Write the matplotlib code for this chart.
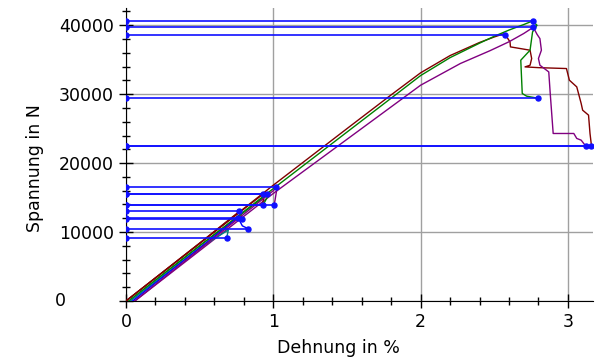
import numpy as np
import matplotlib
matplotlib.use("Agg")
import matplotlib.pyplot as plt
from matplotlib.ticker import MultipleLocator, FuncFormatter

# -----------------------------
# DATA
# -----------------------------
# long specimens
red_x = [0, 0.5, 1.0, 1.5, 1.8, 2.0, 2.2, 2.4, 2.5, 2.57, 2.607, 2.61, 2.743, 2.754,
         2.743, 2.709, 2.80, 2.99, 3.01, 3.06, 3.09, 3.10, 3.14, 3.15, 3.16]
red_y = [0, 8350, 16800, 25000, 29900, 33100, 35600, 37500, 38300, 38800, 37580, 36860,
         36380, 35170, 34200, 33960, 33850, 33720, 32030, 31060, 28650, 27680, 26960,
         24300, 22500]

green_x = [0.02, 0.5, 1.0, 1.5, 2.0, 2.2, 2.4, 2.5, 2.6, 2.7, 2.76, 2.79, 2.76, 2.743,
           2.68, 2.69, 2.72, 2.795]
green_y = [0, 8000, 16300, 24500, 32700, 35300, 37400, 38400, 39300, 40100, 40620, 40000,
           39030, 36380, 34930, 30100, 29710, 29420]

purple_x = [0.06, 0.5, 1.0, 1.5, 2.0, 2.27, 2.47, 2.6, 2.7, 2.765, 2.79, 2.81, 2.82,
            2.80, 2.81, 2.87, 2.88, 2.89, 2.90, 3.04, 3.06, 3.09, 3.12]
purple_y = [0, 7300, 15600, 23450, 31300, 34450, 36300, 37600, 38800, 39700, 38700, 38060,
            36380, 35170, 34200, 33230, 30100, 27200, 24300, 24300, 23580, 23330, 22500]

# short specimens (early failure)
red2_x = [0, 0.5, 0.928, 0.934, 0.93]
red2_y = [0, 8350, 15460, 15000, 14300]
red3_x = [0, 0.5, 0.77, 0.78, 0.787]
red3_y = [0, 8400, 13000, 12500, 11840]
green2_x = [0.02, 0.5, 0.96, 0.958, 0.94, 0.928]
green2_y = [0, 8000, 15460, 15000, 14300, 13870]
teal_x = [0.03, 0.5, 0.695, 0.69, 0.683]
teal_y = [0, 7700, 10300, 9800, 9130]
blue_x = [0.045, 0.5, 0.758, 0.77, 0.79, 0.83]
blue_y = [0, 7700, 12070, 11700, 10900, 10480]
purple2_x = [0.06, 0.5, 1.0, 1.02, 1.023, 1.012, 1.005]
purple2_y = [0, 7500, 16000, 16480, 16090, 14640, 13870]

# blue marker lines: force level and strain where the line ends
mark_force = [40620, 39710, 38600, 29420, 22500, 22500, 16480, 15460, 15460, 13870,
              13870, 13000, 12070, 11840, 10480, 9130]
mark_strain = [2.76, 2.765, 2.57, 2.795, 3.12, 3.16, 1.02, 0.96, 0.928, 1.005,
               0.928, 0.77, 0.758, 0.787, 0.83, 0.683]

curves = [
    (red_x, red_y, "#800000"),
    (green_x, green_y, "#008000"),
    (purple_x, purple_y, "#800080"),
    (red2_x, red2_y, "#800000"),
    (red3_x, red3_y, "#800000"),
    (green2_x, green2_y, "#008000"),
    (teal_x, teal_y, "#008080"),
    (blue_x, blue_y, "#0000FF"),
    (purple2_x, purple2_y, "#800080"),
]

plt.rcParams["font.family"] = ["DejaVu Sans"]
plt.rcParams["font.size"] = 12.5

fig = plt.figure(figsize=(6.13, 3.61), dpi=100)
ax = fig.add_axes([0.2055, 0.1662, 0.7618, 0.8116])

for cx, cy, col in curves:
    ax.plot(cx, cy, color=col, linewidth=1.0, zorder=3)

for f, s in zip(mark_force, mark_strain):
    ax.plot([0, s], [f, f], color="#1010FF", linewidth=1.2, marker="o",
            markersize=3.6, zorder=4)

ax.set_xlim(0, 3.17)
ax.set_ylim(0, 42500)

ax.spines["top"].set_visible(False)
ax.spines["right"].set_visible(False)

ax.xaxis.set_major_locator(MultipleLocator(1))
ax.xaxis.set_minor_locator(MultipleLocator(0.2))
ax.yaxis.set_major_locator(MultipleLocator(10000))
ax.yaxis.set_minor_locator(MultipleLocator(2000))
ax.tick_params(which="major", direction="inout", length=10, width=1)
ax.tick_params(which="minor", direction="inout", length=6, width=1)
ax.yaxis.set_major_formatter(FuncFormatter(lambda v, p: "" if v == 0 else f"{v:.0f}"))
ax.text(-0.14, 0, "0", transform=ax.get_yaxis_transform(), ha="center", va="center")

ax.grid(True, which="major", color="#a0a0a0", linewidth=1.0, zorder=0)

ax.set_xlabel("Dehnung in %")
ax.set_ylabel("Spannung in N")
ax.xaxis.set_label_coords(0.454, -0.13)
ax.yaxis.set_label_coords(-0.175, 0.454)

fig.savefig("out.png", dpi=100)
